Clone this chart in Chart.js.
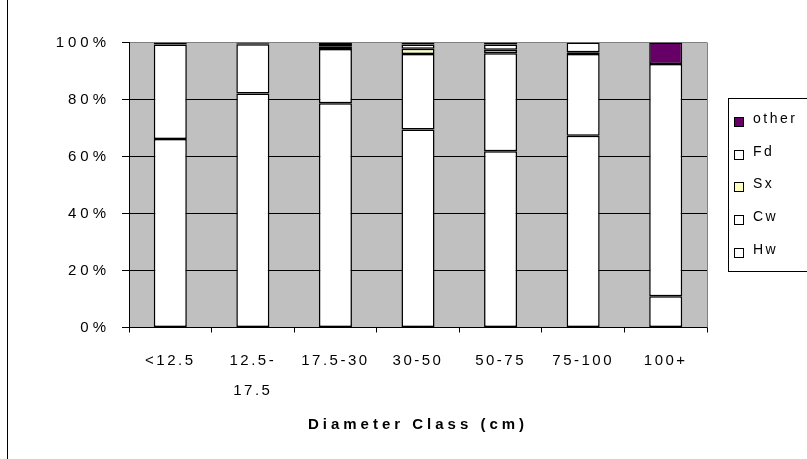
<!DOCTYPE html>
<html>
<head>
<meta charset="utf-8">
<script src="https://cdn.jsdelivr.net/npm/chart.js@4/dist/chart.umd.min.js"></script>
<style>
  html, body { margin: 0; padding: 0; background: #fff; }
  canvas { display: block; }
</style>
</head>
<body>
<canvas id="c" width="807" height="459"></canvas>
<script>
// Diameter classes along the x axis
const categories = ['<12.5', ['12.5-', '17.5'], '17.5-30', '30-50', '50-75', '75-100', '100+'];

// Species share of each diameter class (percent)
const hw    = [66.1, 82.1, 78.7, 69.5, 61.8, 67.3, 11.0];
const cw    = [33.2, 17.3, 19.0, 26.5, 34.4, 28.7, 81.5];
const sx    = [0,    0,    1.0,  1.8,  1.3,  0.6,  0];
const fd    = [0.2,  0.2,  0.8,  1.5,  1.8,  3.4,  0];
const other = [0.5,  0.4,  0.5,  0.7,  0.7,  0,    7.5];

// Y axis ticks
const yTicks = [0, 20, 40, 60, 80, 100];

const FONT = '"Liberation Sans", Arial, sans-serif';

const seriesDefs = [
  { label: 'Hw',    data: hw,    color: '#FFFFFF' },
  { label: 'Cw',    data: cw,    color: '#FFFFFF' },
  { label: 'Sx',    data: sx,    color: '#FFFFC0' },
  { label: 'Fd',    data: fd,    color: '#FFFFFF' },
  { label: 'other', data: other, color: '#660066' }
];

const datasets = seriesDefs.map(s => ({
  label: s.label,
  data: s.data,
  backgroundColor: s.color,
  borderColor: '#000000',
  borderWidth: 1.5,
  borderSkipped: false,
  barPercentage: 0.40,
  categoryPercentage: 1.0
}));

// Wide letter spacing per text element
const spacingFor = {
  y: '4px',
  x: '2.5px',
  title: '4px',
  legend: '2.5px'
};

// Gray plot background, frame and a boxed legend
const excelLook = {
  id: 'excelLook',
  beforeLayout(chart) {
    // axis text is drawn with extra letter spacing
    const ctx = chart.ctx;
    const ys = chart.scales.y, xs = chart.scales.x;
    if (ys && !ys._spaced) {
      ys.draw = function (area) {
        ctx.letterSpacing = spacingFor.y;
        Chart.Scale.prototype.draw.call(this, area);
        ctx.letterSpacing = '0px';
      };
      ys._spaced = true;
    }
    if (xs && !xs._spaced) {
      xs.draw = function (area) {
        this.drawBackground();
        this.drawGrid(area);
        ctx.letterSpacing = spacingFor.title;
        this.drawTitle();
        ctx.letterSpacing = spacingFor.x;
        this.drawLabels(area);
        ctx.letterSpacing = '0px';
        this.drawBorder();
      };
      xs._spaced = true;
    }
  },
  beforeDraw(chart) {
    const { ctx, chartArea: a } = chart;
    ctx.save();
    ctx.fillStyle = '#FFFFFF';
    ctx.fillRect(0, 0, chart.width, chart.height);
    ctx.fillStyle = '#C0C0C0';
    ctx.fillRect(a.left, a.top, a.right - a.left, a.bottom - a.top);
    ctx.restore();
  },
  afterDraw(chart) {
    const { ctx, chartArea: a } = chart;
    ctx.save();
    // right edge of the plot
    ctx.strokeStyle = '#808080';
    ctx.lineWidth = 1;
    ctx.beginPath();
    ctx.moveTo(Math.round(a.right) + 0.5, a.top);
    ctx.lineTo(Math.round(a.right) + 0.5, a.bottom);
    ctx.stroke();

    // outer chart frame
    ctx.strokeStyle = '#000000';
    ctx.beginPath();
    ctx.moveTo(7.5, 0);
    ctx.lineTo(7.5, 459);
    ctx.stroke();

    // legend box
    const lx = 728.5, ly = 98.5, lw = 82, lh = 173;
    ctx.fillStyle = '#FFFFFF';
    ctx.fillRect(lx, ly, lw, lh);
    ctx.strokeRect(lx, ly, lw, lh);
    ctx.font = '14px ' + FONT;
    ctx.letterSpacing = spacingFor.legend;
    ctx.textBaseline = 'middle';
    ctx.textAlign = 'left';
    const items = chart.data.datasets.slice().reverse();
    items.forEach((ds, i) => {
      const c = 119 + i * 32.7;
      ctx.fillStyle = ds.backgroundColor;
      ctx.fillRect(734.5, Math.round(c) - 1.5, 9, 9);
      ctx.strokeStyle = '#000000';
      ctx.strokeRect(734.5, Math.round(c) - 1.5, 9, 9);
      ctx.fillStyle = '#000000';
      ctx.fillText(ds.label, 753, c);
    });
    ctx.restore();
  }
};

new Chart(document.getElementById('c'), {
  type: 'bar',
  data: { labels: categories, datasets },
  options: {
    responsive: false,
    animation: false,
    devicePixelRatio: 1,
    layout: { padding: { left: 0, right: 100, top: 42.5, bottom: 0 } },
    plugins: {
      legend: { display: false },
      tooltip: { enabled: false }
    },
    scales: {
      x: {
        stacked: true,
        offset: true,
        grid: {
          offset: true,
          drawOnChartArea: false,
          color: '#000000',
          tickLength: 5
        },
        border: { color: '#000000', width: 1 },
        ticks: {
          color: '#000000',
          font: { family: FONT, size: 15, lineHeight: 2 },
          padding: 13,
          maxRotation: 0,
          autoSkip: false
        },
        title: {
          display: true,
          text: 'Diameter Class (cm)',
          color: '#000000',
          font: { family: FONT, size: 15, weight: 'bold' },
          padding: { top: 0, bottom: 25 }
        },
        afterFit(scale) { scale.height = 131.5; }
      },
      y: {
        stacked: true,
        min: 0,
        max: 100,
        afterBuildTicks(scale) { scale.ticks = yTicks.map(v => ({ value: v })); },
        grid: {
          color: ctx => (ctx.tick && ctx.tick.value === 100 ? '#808080' : '#000000'),
          tickColor: '#000000',
          tickLength: 7,
          lineWidth: 1
        },
        border: { color: '#000000', width: 1 },
        ticks: {
          color: '#000000',
          font: { family: FONT, size: 15 },
          padding: 12,
          callback: v => v + '%'
        },
        afterFit(scale) { scale.width = 129; }
      }
    }
  },
  plugins: [excelLook]
});
</script>
</body>
</html>
